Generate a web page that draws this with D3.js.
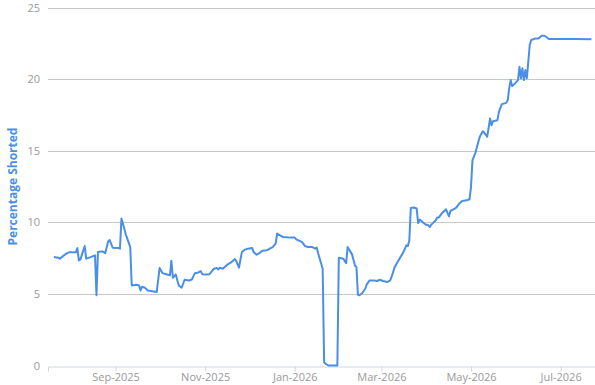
<!DOCTYPE html>
<html>
<head>
<meta charset="utf-8">
<script src="https://cdn.jsdelivr.net/npm/d3@7"></script>
<style>
  body { margin: 0; background: #fff; }
  svg { display: block; }
</style>
</head>
<body>
<script>
// short interest series
var dates = [
  "2025-07-21","2025-07-24","2025-07-25","2025-07-27","2025-07-30","2025-08-01","2025-08-03","2025-08-05",
  "2025-08-06","2025-08-07","2025-08-08","2025-08-11","2025-08-12","2025-08-15","2025-08-18","2025-08-19",
  "2025-08-20","2025-08-23","2025-08-25","2025-08-27","2025-08-28","2025-08-30","2025-09-03","2025-09-04",
  "2025-09-05","2025-09-06","2025-09-08","2025-09-09","2025-09-11","2025-09-12","2025-09-15","2025-09-17",
  "2025-09-18","2025-09-19","2025-09-21","2025-09-23","2025-09-27","2025-09-29","2025-10-01","2025-10-03",
  "2025-10-06","2025-10-08","2025-10-09","2025-10-10","2025-10-12","2025-10-14","2025-10-16","2025-10-18",
  "2025-10-21","2025-10-23","2025-10-25","2025-10-27","2025-10-29","2025-10-30","2025-11-02","2025-11-04",
  "2025-11-07","2025-11-09","2025-11-10","2025-11-11","2025-11-13","2025-11-16","2025-11-19","2025-11-21",
  "2025-11-22","2025-11-24","2025-11-26","2025-11-28","2025-11-30","2025-12-03","2025-12-04","2025-12-06",
  "2025-12-08","2025-12-10","2025-12-13","2025-12-15","2025-12-17","2025-12-19","2025-12-20","2025-12-22",
  "2025-12-24","2025-12-29","2026-01-01","2026-01-02","2026-01-05","2026-01-06","2026-01-08","2026-01-10",
  "2026-01-13","2026-01-15","2026-01-16","2026-01-17","2026-01-19","2026-01-20","2026-01-21","2026-01-22",
  "2026-01-24","2026-01-29","2026-01-30","2026-01-31","2026-02-01","2026-02-03","2026-02-05","2026-02-06",
  "2026-02-09","2026-02-11","2026-02-12","2026-02-13","2026-02-14","2026-02-16","2026-02-18","2026-02-19",
  "2026-02-21","2026-02-24","2026-02-26","2026-02-28","2026-03-02","2026-03-05","2026-03-07","2026-03-08",
  "2026-03-10","2026-03-12","2026-03-14","2026-03-16","2026-03-18","2026-03-19","2026-03-20","2026-03-21",
  "2026-03-23","2026-03-25","2026-03-26","2026-03-27","2026-03-29","2026-03-31","2026-04-02","2026-04-03",
  "2026-04-04","2026-04-07","2026-04-08","2026-04-09","2026-04-11","2026-04-14","2026-04-16","2026-04-17",
  "2026-04-19","2026-04-21","2026-04-23","2026-04-25","2026-04-28","2026-04-30","2026-05-01","2026-05-02",
  "2026-05-04","2026-05-06","2026-05-07","2026-05-09","2026-05-11","2026-05-12","2026-05-14","2026-05-15",
  "2026-05-16","2026-05-19","2026-05-20","2026-05-22","2026-05-25","2026-05-26","2026-05-27","2026-05-28",
  "2026-05-29","2026-05-31","2026-06-02","2026-06-03","2026-06-04","2026-06-05","2026-06-06","2026-06-07",
  "2026-06-08","2026-06-09","2026-06-10","2026-06-11","2026-06-14","2026-06-16","2026-06-18","2026-06-20",
  "2026-06-22","2026-06-23","2026-07-02","2026-07-11","2026-07-22"
];
var shorted = [
  7.57,7.53,7.46,7.62,7.85,7.92,7.90,7.90,
  8.20,7.34,7.39,8.34,7.46,7.57,7.69,4.90,
  7.92,7.97,7.85,8.67,8.76,8.23,8.20,8.16,
  10.26,9.91,9.14,8.86,8.27,5.59,5.64,5.59,
  5.24,5.50,5.43,5.24,5.17,5.13,6.81,6.45,
  6.36,6.29,7.32,6.13,6.36,5.59,5.43,5.99,
  5.94,6.01,6.45,6.48,6.59,6.38,6.36,6.38,
  6.76,6.81,6.71,6.83,6.76,7.04,7.22,7.43,
  7.34,6.83,7.92,8.09,8.16,8.20,7.92,7.74,
  7.85,8.02,8.04,8.16,8.27,8.51,9.21,9.09,
  8.97,8.93,8.93,8.81,8.67,8.62,8.34,8.27,
  8.27,8.16,8.23,7.81,7.11,6.76,0.23,0.12,
  0,0,0,7.53,7.50,7.46,7.15,8.27,
  7.76,6.99,6.87,4.94,4.90,5.06,5.36,5.66,
  5.94,5.94,5.90,5.99,5.90,5.83,5.94,6.22,
  6.87,7.22,7.57,7.92,8.39,8.34,8.74,11.00,
  11.03,10.96,9.95,10.19,10.02,9.84,9.79,9.67,
  9.84,10.14,10.33,10.33,10.61,10.91,10.42,10.79,
  10.91,11.03,11.31,11.49,11.54,11.61,12.47,14.34,
  14.85,15.62,15.97,16.36,16.13,15.97,17.25,16.78,
  17.06,17.13,17.71,18.25,18.34,18.53,19.35,19.93,
  19.51,19.70,19.93,20.86,20.05,20.75,19.93,20.63,
  20.05,21.21,22.38,22.73,22.84,22.84,23.03,23.03,
  22.89,22.80,22.80,22.80,22.78
];
var yTicks = [0, 5, 10, 15, 20, 25];
var xTicks = ["2025-09-01","2025-11-01","2026-01-01","2026-03-01","2026-05-01","2026-07-01"];
var xDomain = ["2025-07-17","2026-07-24T10:00"];

var W = 595, H = 385;
var margin = {top: 7.5, right: 0, bottom: 19.5, left: 48};

var parseDate = d3.utcParse("%Y-%m-%d");
var parseDT = function(s) { return s.length > 10 ? d3.isoParse(s + "Z") : parseDate(s); };
var fmt = d3.utcFormat("%b-%Y");

var data = dates.map(function(d, i) { return {date: parseDate(d), value: shorted[i]}; });

var svg = d3.select("body").append("svg")
    .attr("width", W)
    .attr("height", H);

var x = d3.scaleUtc()
    .domain(xDomain.map(parseDT))
    .range([margin.left, W - margin.right]);
var y = d3.scaleLinear()
    .domain([0, 25])
    .range([H - margin.bottom, margin.top]);

// grid lines
svg.append("g")
  .selectAll("line")
  .data(yTicks.filter(function(t) { return t > 0; }))
  .enter().append("line")
    .attr("x1", margin.left)
    .attr("x2", W - margin.right)
    .attr("y1", function(d) { return Math.round(y(d)) + 0.5; })
    .attr("y2", function(d) { return Math.round(y(d)) + 0.5; })
    .style("stroke", "#c8c8c8")
    .style("stroke-width", 1);

// y labels
svg.append("g")
  .selectAll("text")
  .data(yTicks)
  .enter().append("text")
    .attr("x", 40)
    .attr("y", function(d) { return y(d) + 4; })
    .attr("text-anchor", "end")
    .attr("font-family", "Open Sans, sans-serif")
    .attr("font-size", 11)
    .attr("fill", "#999")
    .text(function(d) { return d; });

// x axis
var xAxis = svg.append("g")
    .attr("transform", "translate(0," + (Math.round(y(0)) + 0.5) + ")")
    .call(d3.axisBottom(x)
      .tickValues(xTicks.map(parseDate))
      .tickFormat(fmt)
      .tickSizeOuter(0)
      .tickSize(5)
      .tickPadding(2));
xAxis.select(".domain").style("stroke", "#ccd6eb");
xAxis.selectAll(".tick line").style("stroke", "#ccd6eb");
xAxis.selectAll(".tick text")
    .attr("font-family", "Open Sans, sans-serif")
    .attr("font-size", 11)
    .attr("fill", "#999");

// line
var line = d3.line()
    .x(function(d) { return x(d.date); })
    .y(function(d) { return y(d.value); });

svg.append("path")
    .datum(data)
    .style("fill", "none")
    .style("stroke", "#4a8fe7")
    .style("stroke-width", 2)
    .style("stroke-linejoin", "round")
    .attr("d", line);

// y axis title
svg.append("text")
    .attr("transform", "translate(17," + ((margin.top + H - margin.bottom) / 2) + ") rotate(-90)")
    .attr("text-anchor", "middle")
    .attr("font-family", "Open Sans, sans-serif")
    .attr("font-size", 12)
    .attr("font-weight", "bold")
    .attr("fill", "#4a8fe7")
    .text("Percentage Shorted");
</script>
</body>
</html>
